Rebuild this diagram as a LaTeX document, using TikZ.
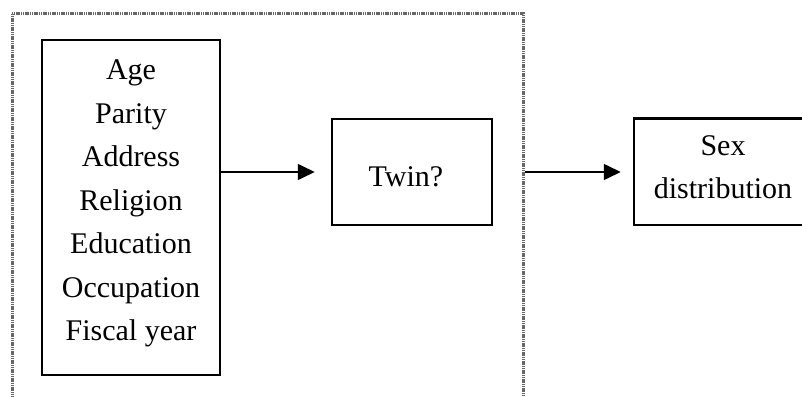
\documentclass[tikz,border=0pt]{standalone}
\usepackage{fontspec}
\setmainfont{Liberation Serif}
\usetikzlibrary{arrows.meta}
\begin{document}
\begin{tikzpicture}[x=1pt,y=-1pt,
  boxnode/.style={draw=black,line width=2.5pt,inner sep=0pt},
  txt/.style={inner sep=0pt,align=center,font=\fontsize{30}{43.5}\selectfont},
  outerbox/.style={draw=black!60,line width=3pt,dash pattern=on 1.2pt off 0.6pt,inner sep=0pt},
  arr/.style={line width=1.6pt,-{Triangle[length=17pt,width=16pt]}}]
\useasboundingbox (0,0) rectangle (802,396);
\clip (0,0) rectangle (802,396);
\node[outerbox,minimum width=511.5pt,minimum height=420pt] (outer) at (267.75,223.5) {};
\node[boxnode,minimum width=178pt,minimum height=335pt] (factors) at (131,207.5) {};
\node[txt] (factorstext) at (131,203.5) {Age\\Parity\\Address\\Religion\\Education\\Occupation\\Fiscal year};
\node[boxnode,minimum width=160pt,minimum height=106pt] (twin) at (412,172) {};
\node[txt] (twintext) at (406,177) {Twin?};
\node[boxnode,minimum width=178pt,minimum height=106.5pt] (sex) at (723,171.75) {};
\node[txt] (sextext) at (723,167) {Sex\\distribution};
\draw[arr,shorten >=16pt] (factors.east |- twin.west) -- (twin.west);
\draw[arr,shorten >=12pt] (outer.east |- twin.east) -- (sex.west |- twin.east);
\end{tikzpicture}
\end{document}
